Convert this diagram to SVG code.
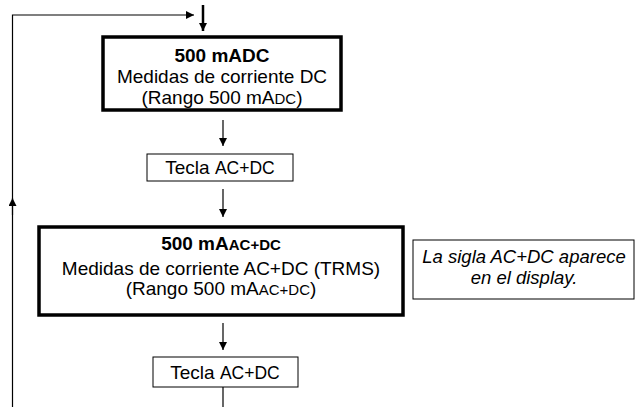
<svg xmlns="http://www.w3.org/2000/svg" width="638" height="407" viewBox="0 0 638 407">
<style>
text{font-family:"Liberation Sans",Arial,sans-serif;font-size:19px;fill:#000;text-anchor:middle}
.b{font-weight:bold}
.sm{font-size:15px}
.k{font-size:17.5px}
.it{font-style:italic;font-size:18.5px}
.thick{fill:#fff;stroke:#000;stroke-width:3.5}
.thin{fill:#fff;stroke:#000;stroke-width:1}
.ln{stroke:#000;stroke-width:1.2;fill:none}
</style>
<defs>
<marker id="ah" viewBox="0 0 10 10" refX="10" refY="5" markerWidth="8" markerHeight="8" markerUnits="userSpaceOnUse" orient="auto"><path d="M0,0 L10,5 L0,10 z" fill="#000"/></marker>
<marker id="ahb" viewBox="0 0 10 10" refX="10" refY="5" markerWidth="8" markerHeight="8" markerUnits="userSpaceOnUse" orient="auto"><path d="M0,0 L10,5 L0,10 z" fill="#000"/></marker>
</defs>
<g id="connectors">
<path class="ln" d="M12.5,407 V15 H194" marker-end="url(#ah)"/>
<path class="ln" d="M12.5,215 V198" marker-end="url(#ah)"/>
<path d="M203,5 V31" stroke="#000" stroke-width="2.5" fill="none" marker-end="url(#ahb)"/>
<path class="ln" d="M223,120 V146" marker-end="url(#ah)"/>
<path class="ln" d="M223,189 V217" marker-end="url(#ah)"/>
<path class="ln" d="M223,323 V350" marker-end="url(#ah)"/>
<path class="ln" d="M223,387 V407"/>
</g>
<g id="box1">
<rect class="thick" x="103" y="37" width="238" height="73"/>
<text class="b" x="222" y="62">500 mADC</text>
<text x="222" y="83">Medidas de corriente DC</text>
<text x="222" y="104">(Rango 500 mA<tspan class="sm">DC</tspan>)</text>
</g>
<g id="key1">
<rect class="thin" x="147" y="154" width="146" height="27"/>
<text x="220" y="174">Tecla <tspan class="k">AC+DC</tspan></text>
</g>
<g id="box2">
<rect class="thick" x="39" y="227" width="364" height="88"/>
<text class="b" x="221" y="250">500 mA<tspan class="sm">AC+DC</tspan></text>
<text x="221" y="275">Medidas de corriente AC+DC (TRMS)</text>
<text x="221" y="295">(Rango 500 mA<tspan class="sm">AC+DC</tspan>)</text>
</g>
<g id="note">
<rect class="thin" x="413" y="240" width="221" height="59"/>
<text class="it" x="524" y="263">La sigla AC+DC aparece</text>
<text class="it" x="524" y="284">en el display.</text>
</g>
<g id="key2">
<rect class="thin" x="153" y="357" width="145" height="30"/>
<text x="225" y="379">Tecla <tspan class="k">AC+DC</tspan></text>
</g>
</svg>
